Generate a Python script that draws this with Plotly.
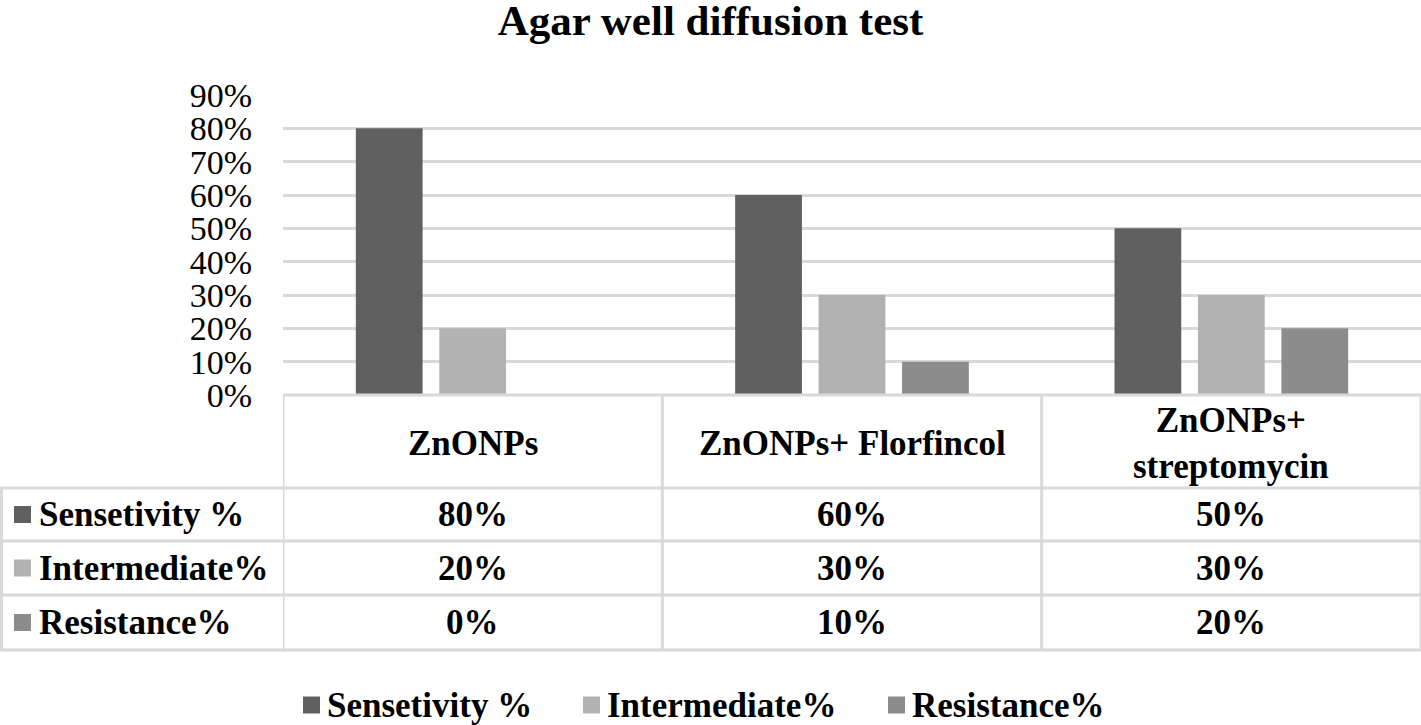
import plotly.graph_objects as go

# ---- data ----
title_text = "Agar well diffusion test"
categories = ["ZnONPs", "ZnONPs+ Florfincol", "ZnONPs+<br>streptomycin"]
series_names = ["Sensetivity %", "Intermediate%", "Resistance%"]
sensitivity = [0.80, 0.60, 0.50]
intermediate = [0.20, 0.30, 0.30]
resistance = [0.00, 0.10, 0.20]
series_values = [sensitivity, intermediate, resistance]
colors = ["#606060", "#b2b2b2", "#8c8c8c"]
y_ticks = [0, 0.1, 0.2, 0.3, 0.4, 0.5, 0.6, 0.7, 0.8, 0.9]

W, H = 1421, 725
FONT = "Liberation Serif"
GRID = "#d9d9d9"


def py(y):
    return 1 - y / H


def px(x):
    return x / W


fig = go.Figure()
for name, vals, col in zip(series_names, series_values, colors):
    fig.add_trace(go.Bar(x=categories, y=vals, name=name, marker_color=col,
                         marker_line_width=0, showlegend=False))

# table geometry (pixels)
plot_left = 283
y_top = 395
row_lines = [488, 541, 595, 650]
header_center = 442
row_centers = [514.5, 568, 622.5]

shapes = []
lw = 3
shapes.append(dict(type="line", xref="paper", yref="paper", x0=px(plot_left), x1=1,
                   y0=py(y_top), y1=py(y_top), line=dict(color=GRID, width=lw)))
for yl in row_lines:
    shapes.append(dict(type="line", xref="paper", yref="paper", x0=0, x1=1,
                       y0=py(yl), y1=py(yl), line=dict(color=GRID, width=lw)))
for b in [-0.5, 0.5, 1.5, 2.5]:
    shapes.append(dict(type="line", xref="x", yref="paper", x0=b, x1=b,
                       y0=py(y_top), y1=py(row_lines[-1]), line=dict(color=GRID, width=lw)))
shapes.append(dict(type="line", xref="paper", yref="paper", x0=px(1.5), x1=px(1.5),
                   y0=py(row_lines[0]), y1=py(row_lines[-1]), line=dict(color=GRID, width=lw)))

annotations = []
bold = dict(family=FONT, size=35, color="#000000", weight="bold")
for i, c in enumerate(categories):
    annotations.append(dict(xref="x", yref="paper", x=i, y=py(header_center + 2),
                            text=c, showarrow=False, font=bold, xanchor="center",
                            yanchor="middle"))
for r, (name, vals, col) in enumerate(zip(series_names, series_values, colors)):
    yc = row_centers[r]
    shapes.append(dict(type="rect", xref="paper", yref="paper",
                       x0=px(14), x1=px(31), y0=py(yc + 8.5), y1=py(yc - 8.5),
                       fillcolor=col, line=dict(width=0)))
    annotations.append(dict(xref="paper", yref="paper", x=px(37), y=py(yc),
                            text=name, showarrow=False, font=bold, xanchor="left",
                            yanchor="middle"))
    for i, v in enumerate(vals):
        annotations.append(dict(xref="x", yref="paper", x=i, y=py(yc),
                                text=f"{round(v * 100)}%", showarrow=False, font=bold,
                                xanchor="center", yanchor="middle"))

# manual legend at the bottom
legend_y = 705
legend_sq_x = [303, 583, 888]
for name, col, sx in zip(series_names, colors, legend_sq_x):
    shapes.append(dict(type="rect", xref="paper", yref="paper",
                       x0=px(sx), x1=px(sx + 17), y0=py(legend_y + 8.5),
                       y1=py(legend_y - 8.5), fillcolor=col, line=dict(width=0)))
    annotations.append(dict(xref="paper", yref="paper", x=px(sx + 22), y=py(legend_y),
                            text=name, showarrow=False, font=bold, xanchor="left",
                            yanchor="middle"))

fig.update_layout(
    width=W, height=H, autosize=False,
    margin=dict(l=0, r=0, t=0, b=0),
    paper_bgcolor="white", plot_bgcolor="white",
    showlegend=False,
    title=dict(text=title_text, x=0.5, xanchor="center", y=py(20), yanchor="middle",
               font=dict(family=FONT, size=43, color="#000000", weight="bold")),
    barmode="group", bargap=0.34, bargroupgap=0.2,
    xaxis=dict(domain=[px(plot_left), 1], showticklabels=False, showgrid=False,
               zeroline=False, showline=False, range=[-0.5, 2.5], automargin=False),
    yaxis=dict(domain=[py(y_top), py(95)], range=[0, 0.9], tickvals=y_ticks,
               ticktext=[f"{round(t * 100)}%" for t in y_ticks],
               showgrid=True, gridcolor=GRID, gridwidth=3, zeroline=False,
               showline=False, ticks="", ticklabelstandoff=30, automargin=False,
               tickfont=dict(family=FONT, size=34, color="#000000")),
    shapes=shapes, annotations=annotations,
)

fig.write_html("out.html", config={"responsive": False, "displayModeBar": False},
               post_script="document.body.style.margin='0px';document.body.style.overflow='hidden';")
